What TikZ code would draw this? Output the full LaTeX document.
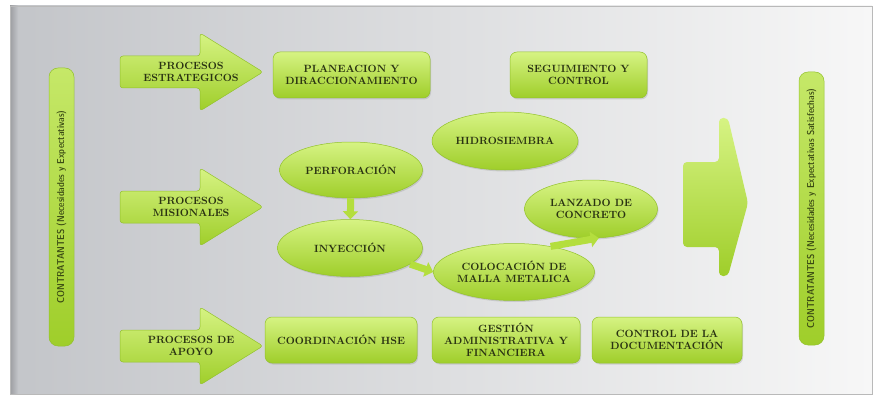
\documentclass[tikz,border=0pt]{standalone}
\usepackage{amsmath}
\usepackage{tikz}
\usetikzlibrary{positioning,shapes.geometric,arrows.meta,shadows}

\definecolor{limehi}{HTML}{D6F383}
\definecolor{limelo}{HTML}{9FCE2A}
\definecolor{limemid}{HTML}{B4DE3E}
\definecolor{limeedge}{HTML}{93C22C}
\definecolor{ink}{HTML}{2A3312}
\definecolor{barink}{HTML}{3A4A14}
\definecolor{panelL}{HTML}{C3C5C9}
\definecolor{panelR}{HTML}{F7F7F7}

\begin{document}
\begin{tikzpicture}[x=1pt, y=-1pt,
				greenfill/.style={top color=limehi, bottom color=limelo, draw=limeedge, line width=0.5pt},
				procbox/.style={greenfill, rounded corners=7pt, minimum height=46pt, align=center, text=ink,
						font=\fontsize{10.5}{12}\selectfont\bfseries,
						drop shadow={opacity=0.25, shadow xshift=1pt, shadow yshift=-1.5pt}},
				roundnode/.style={greenfill, ellipse, align=center, text=ink, inner sep=0pt,
						font=\fontsize{10.5}{12}\selectfont\bfseries,
						drop shadow={opacity=0.25, shadow xshift=1pt, shadow yshift=-1.5pt}},
				barnode/.style={top color=limehi!70!limelo, bottom color=limelo, draw=limeedge, line width=0.5pt,
						rounded corners=9pt, rotate=90, minimum height=25pt, text=barink,
						font=\fontsize{10}{12}\fontseries{sbc}\sffamily\selectfont},
				txt/.style={align=center, text=ink, font=\fontsize{10.5}{12}\selectfont\bfseries},
				linkarrow/.style={draw=limemid, line width=7pt, -{Triangle[length=8pt, width=15pt]}}
			]

			\useasboundingbox (0,0) rectangle (879,404);

			% panel
			\shade[left color=panelL, right color=panelR] (10,6) rectangle (872,394);
			\shade[left color=panelL!80!black, right color=panelL] (10,6) rectangle (18,394);
			\draw[gray!55] (10,6) rectangle (872,394);

			% side bars
			\node[barnode, minimum width=278pt] (cin) at (61.5,207) {CONTRATANTES (Necesidades y Expectativas)};
			\node[barnode, minimum width=273pt] (cout) at (811.5,208.5) {CONTRATANTES (Necesidades y Expectativas Satisfechas)};

			% process arrows
			\foreach \y/\nm/\txt in {72/est/{PROCESOS\\ESTRATEGICOS}, 207/mis/{PROCESOS\\MISIONALES}, 346/apo/{PROCESOS DE\\APOYO}} {
					\path[greenfill, rounded corners=3pt] (120,\y-16) -- (200,\y-16) -- (200,\y-39)
						-- (263,\y) -- (200,\y+39) -- (200,\y+16) -- (120,\y+16) -- cycle;
					\node[txt] (\nm) at (191,\y) {\txt};
				}

			% strategic row
			\node[procbox, minimum width=157pt] (plan) at (351.5,75) {PLANEACION Y\\DIRACCIONAMIENTO};
			\node[procbox, minimum width=137pt] (seg) at (578.5,75) {SEGUIMIENTO Y\\CONTROL};

			% support row
			\foreach \nm/\x/\w/\txt in {coord/341/152/{COORDINACIÓN HSE}, gest/506/148/{GESTIÓN\\ADMINISTRATIVA Y\\FINANCIERA}, ctrl/667/150/{CONTROL DE LA\\DOCUMENTACIÓN}} {
					\node[procbox, minimum width=\w pt] (\nm) at (\x,340) {\txt};
				}

			% mission processes
			\node[roundnode, minimum width=146pt, minimum height=58pt] (hidro) at (505,141) {HIDROSIEMBRA};
			\node[roundnode, minimum width=143pt, minimum height=56pt] (perf) at (351,170) {PERFORACIÓN};
			\node[roundnode, minimum width=145pt, minimum height=57pt] (iny) at (350,248) {INYECCIÓN};
			\node[roundnode, minimum width=145pt, minimum height=57pt] (coloc) at (514,272) {COLOCACIÓN DE\\MALLA METALICA};
			\node[roundnode, minimum width=133pt, minimum height=58pt] (lanz) at (591,209) {LANZADO DE\\CONCRETO};

			\draw[linkarrow] (perf) -- (iny);
			\draw[linkarrow] (iny.-15) -- (coloc.west);
			\draw[linkarrow] (coloc.35) -- (lanz.-75);

			% output arrow
			\path[greenfill, draw=none, rounded corners=4pt] (683,162) -- (719,162) -- (719,118) -- (728,118)
				-- (748,203) -- (728,276) -- (719,276) -- (719,247) -- (683,247) -- cycle;

		\end{tikzpicture}
\end{document}
